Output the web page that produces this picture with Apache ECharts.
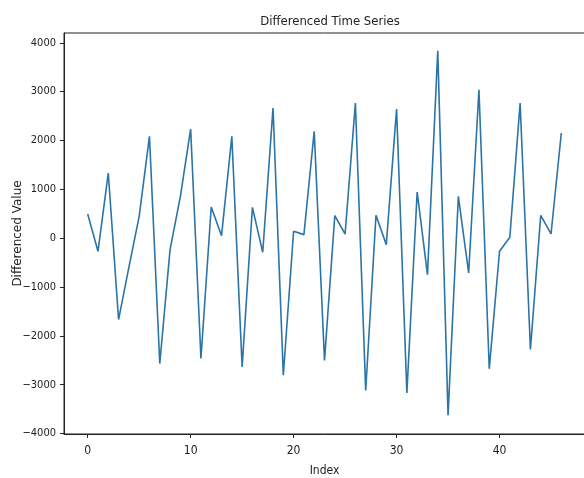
<!DOCTYPE html>
<html>
<head>
<meta charset="utf-8">
<script src="https://cdn.jsdelivr.net/npm/echarts@6/dist/echarts.min.js"></script>
<style>html,body{margin:0;padding:0;background:#fff}#c{width:584px;height:478px}</style>
</head>
<body>
<div id="c"></div>
<script>
const titleText = 'Differenced Time Series';
const xName = 'Index';
const yName = 'Differenced Value';
const xTicks = [0, 10, 20, 30, 40];
const yTicks = [-4000, -3000, -2000, -1000, 0, 1000, 2000, 3000, 4000];
const diffValues = [
  495, -270, 1333, -1667, -600, 446, 2083, -2568, -235, 850,
  2234, -2465, 638, 51, 2083, -2636, 631, -290, 2663, -2806,
  140, 72, 2186, -2506, 460, 85, 2765, -3120, 467, -133,
  2643, -3168, 945, -747, 3836, -3625, 856, -713, 3038, -2676,
  -269, 17, 2765, -2281, 467, 85, 2152
];
const indices = diffValues.map((_, i) => i);
const seriesData = indices.map((i) => [i, diffValues[i]]);

const fmt = (v) => String(Math.round(v)).replace('-', '\u2212');
const condensed = '"DejaVu Sans Condensed", "Liberation Sans Narrow", "DejaVu Sans", sans-serif';
const chart = echarts.init(document.getElementById('c'), null, {renderer: 'canvas'});
chart.setOption({
  animation: false,
  backgroundColor: '#fff',
  title: {
    text: titleText,
    left: 325, top: 10, textAlign: 'center',
    textStyle: {fontFamily: condensed, fontSize: 13, fontWeight: 'normal', color: '#222'}
  },
  grid: {left: 64, top: 33, width: 521, height: 401, show: true, borderColor: '#222', borderWidth: 1,
         containLabel: false, outerBoundsMode: 'none'},
  xAxis: {
    type: 'value', min: -2.3, max: 48.3,
    name: xName, nameLocation: 'middle', nameGap: 31, nameMoveOverlap: false,
    nameTextStyle: {fontFamily: condensed, fontSize: 12, color: '#222'},
    axisLine: {show: true, onZero: false, lineStyle: {color: '#222', width: 1}},
    axisTick: {show: true, length: 4, inside: false, customValues: xTicks, lineStyle: {color: '#222'}},
    axisLabel: {customValues: xTicks, formatter: fmt, fontFamily: condensed, fontSize: 12, color: '#222', margin: 11},
    splitLine: {show: false}
  },
  yAxis: {
    type: 'value', min: -4010, max: 4200,
    name: yName, nameLocation: 'middle', nameGap: 40, nameRotate: 90, nameMoveOverlap: false,
    nameTextStyle: {fontFamily: '"DejaVu Sans", sans-serif', fontSize: 12, color: '#222'},
    axisLine: {show: true, onZero: false, lineStyle: {color: '#222', width: 1}},
    axisTick: {show: true, length: 4, inside: false, customValues: yTicks, lineStyle: {color: '#222'}},
    axisLabel: {customValues: yTicks, formatter: fmt, fontFamily: condensed, fontSize: 11, color: '#222', margin: 8},
    splitLine: {show: false}
  },
  series: [{
    type: 'line', data: seriesData, showSymbol: false, symbol: 'none',
    lineStyle: {color: '#2b74a8', width: 1.6}, clip: true
  }]
});
</script>
</body>
</html>
